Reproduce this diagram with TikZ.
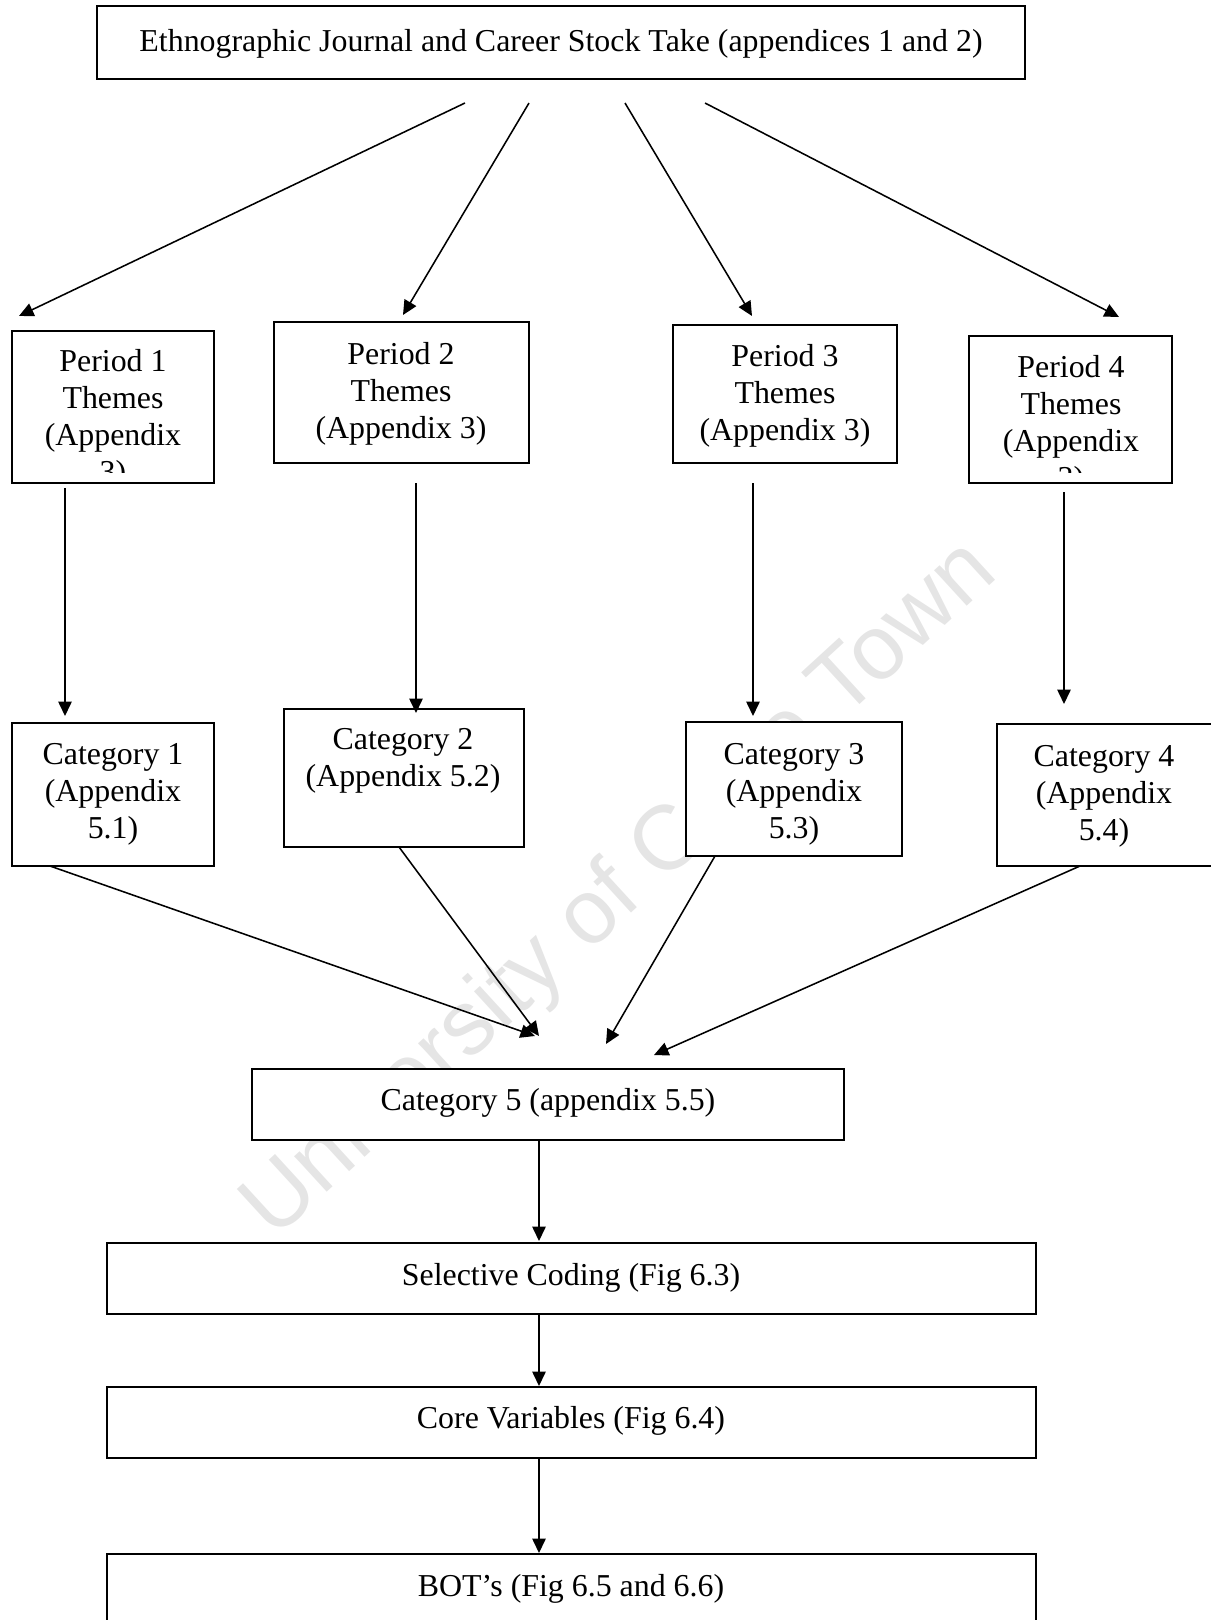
\documentclass[tikz,border=0pt]{standalone}
\usepackage{fontspec}
\setmainfont{Liberation Serif}
\newfontfamily\markfont{Liberation Sans}
\usetikzlibrary{arrows.meta,fit}
\begin{document}
\begin{tikzpicture}[x=0.4pt,y=-0.4pt,
  frame/.style={draw, fill=white, line width=0.8pt, inner sep=0pt},
  label/.style={inner sep=0pt, align=center, anchor=north,
    font=\fontsize{12.75}{14.8}\selectfont},
  link/.style={line width=0.62pt, -{Triangle[length=5.8pt,width=5.4pt]}},
]
\useasboundingbox (0,0) rectangle (1211,1620);
\clip (0,0) rectangle (1211,1620);

% watermark, lying behind the white boxes
\node[rotate=42.5, text=black!10, inner sep=0pt,
  font=\markfont\fontsize{36.5}{36.5}\selectfont] (mark) at (621,891) {University of Cape Town};

% source box
\node[frame, fit={(97,6) (1025,79)}] (src) {};
\node[label] (srcT) at (561,29) {Ethnographic Journal and Career Stock Take (appendices 1 and 2)};

% period boxes
\node[frame, fit={(12,331) (214,483)}] (p1) {};
\node[frame, fit={(274,322) (529,463)}] (p2) {};
\node[frame, fit={(673,325) (897,463)}] (p3) {};
\node[frame, fit={(969,336) (1172,483)}] (p4) {};
\begin{scope}
  \clip (p1.south west) ++(0,-12) rectangle (p1.north east);
  \node[label] (p1T) at (113,349) {Period 1\\Themes\\(Appendix\\3)};
\end{scope}
\node[label] (p2T) at (401,342) {Period 2\\Themes\\(Appendix 3)};
\node[label] (p3T) at (785,344) {Period 3\\Themes\\(Appendix 3)};
\begin{scope}
  \clip (p4.south west) ++(0,-12) rectangle (p4.north east);
  \node[label] (p4T) at (1071,355) {Period 4\\Themes\\(Appendix\\3)};
\end{scope}

% category boxes
\node[frame, fit={(12,723) (214,866)}] (c1) {};
\node[frame, fit={(284,709) (524,847)}] (c2) {};
\node[frame, fit={(686,722) (902,856)}] (c3) {};
\node[frame, fit={(997,724) (1216,866)}] (c4) {};
\node[label] (c1T) at (113,743) {Category 1\\(Appendix\\5.1)};
\node[label] (c2T) at (403,728) {Category 2\\(Appendix 5.2)};
\node[label] (c3T) at (794,743) {Category 3\\(Appendix\\5.3)};
\node[label] (c4T) at (1104,745) {Category 4\\(Appendix\\5.4)};

% lower chain
\node[frame, fit={(252,1069) (844,1140)}] (c5) {};
\node[label] (c5T) at (548,1088) {Category 5 (appendix 5.5)};
\node[frame, fit={(107,1243) (1036,1314)}] (sel) {};
\node[label] (selT) at (571,1263) {Selective Coding (Fig 6.3)};
\node[frame, fit={(107,1387) (1036,1458)}] (core) {};
\node[label] (coreT) at (571,1406) {Core Variables (Fig 6.4)};
\node[frame, fit={(107,1554) (1036,1640)}] (bot) {};
\node[label] (botT) at (571,1574) {BOT’s (Fig 6.5 and 6.6)};

% connector end points
\coordinate (s1) at (465,103);
\coordinate (s2) at (529,103);
\coordinate (s3) at (625,103);
\coordinate (s4) at (705,103);
\coordinate (e1) at (19,316);
\coordinate (e2) at (403,315);
\coordinate (e3) at (752,316);
\coordinate (e4) at (1119,317);

\coordinate (v1a) at (65,488);   \coordinate (v1b) at (65,716);
\coordinate (v2a) at (416,483);  \coordinate (v2b) at (416,713);
\coordinate (v3a) at (753,483);  \coordinate (v3b) at (753,716);
\coordinate (v4a) at (1064,492); \coordinate (v4b) at (1064,704);

\coordinate (d1a) at (50,866);   \coordinate (d1b) at (535,1036);
\coordinate (d2a) at (399,847);  \coordinate (d2b) at (539,1036);
\coordinate (d3a) at (715,856);  \coordinate (d3b) at (606,1044);
\coordinate (d4a) at (1080,866); \coordinate (d4b) at (654,1055);

\coordinate (m1a) at (539,1140); \coordinate (m1b) at (539,1241);
\coordinate (m2a) at (539,1314); \coordinate (m2b) at (539,1386);
\coordinate (m3a) at (539,1458); \coordinate (m3b) at (539,1553);

% connectors
\draw[link] (s1) -- (e1);
\draw[link] (s2) -- (e2);
\draw[link] (s3) -- (e3);
\draw[link] (s4) -- (e4);
\draw[link] (v1a) -- (v1b);
\draw[link] (v2a) -- (v2b);
\draw[link] (v3a) -- (v3b);
\draw[link] (v4a) -- (v4b);
\draw[link] (d1a) -- (d1b);
\draw[link] (d2a) -- (d2b);
\draw[link] (d3a) -- (d3b);
\draw[link] (d4a) -- (d4b);
\draw[link] (m1a) -- (m1b);
\draw[link] (m2a) -- (m2b);
\draw[link] (m3a) -- (m3b);
\end{tikzpicture}
\end{document}
